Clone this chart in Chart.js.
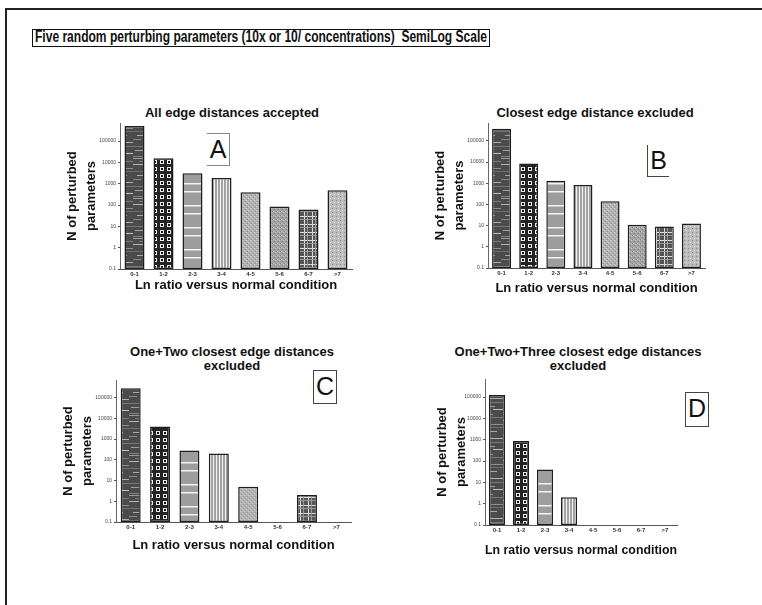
<!DOCTYPE html>
<html>
<head>
<meta charset="utf-8">
<title>Five random perturbing parameters</title>
<script src="https://cdn.jsdelivr.net/npm/chart.js"></script>
<style>
  body, html {
    margin: 0;
    padding: 0;
    background: #fff;
    font-family: 'Liberation Sans', Arial, sans-serif;
  }
  #page {
    position: relative;
    width: 762px;
    height: 605px;
    overflow: hidden;
  }
  /* outer frame of the figure (left and top edges only are in view) */
  #frame {
    position: absolute;
    left: 5px;
    top: 8px;
    width: 800px;
    height: 620px;
    border-left: 2px solid #222;
    border-top: 2px solid #222;
  }
  #mainTitle {
    position: absolute;
    left: 32px;
    top: 29px;
    width: 456px;
    height: 16px;
    border: 1.5px solid #111;
    overflow: hidden;
  }
  #mainTitle span {
    position: absolute;
    left: 2px;
    top: -2px;
    font-size: 16px;
    font-weight: bold;
    color: #111;
    white-space: pre;
    transform-origin: 0 50%;
  }
  .ptitle {
    position: absolute;
    width: 320px;
    text-align: center;
    font-size: 13px;
    font-weight: bold;
    line-height: 14px;
    color: #111;
  }
  .letter {
    position: absolute;
    box-sizing: border-box;
    font-size: 25px;
    line-height: 30px;
    text-align: center;
    color: #111;
  }
  canvas { position: absolute; }
</style>
</head>
<body>
<div id="page">
  <div id="frame"></div>
  <div id="mainTitle"><span>Five random perturbing parameters (10x or 10/ concentrations)  SemiLog Scale</span></div>

  <div class="ptitle" style="left:72px; top:106px;">All edge distances accepted</div>
  <div class="ptitle" style="left:435px; top:106px;">Closest edge distance excluded</div>
  <div class="ptitle" style="left:72px; top:345px;">One+Two closest edge distances<br>excluded</div>
  <div class="ptitle" style="left:418px; top:345px;">One+Two+Three closest edge distances<br>excluded</div>

  <div class="letter" style="left:207px; top:133px; width:23px; height:33px; border-top:1px solid #888; border-right:1px solid #888; border-bottom:1px solid #888;">A</div>
  <div class="letter" style="left:647px; top:145px; width:22px; height:32px; border-left:1px solid #444; border-bottom:1px solid #444;">B</div>
  <div class="letter" style="left:313px; top:370px; width:24px; height:34px; border:1px solid #444;">C</div>
  <div class="letter" style="left:685px; top:392px; width:24px; height:35px; border:1px solid #444;">D</div>
</div>

<script>
// ---- data ----
const categories = ['0-1', '1-2', '2-3', '3-4', '4-5', '5-6', '6-7', '>7'];
const yTickValues = [0.1, 1, 10, 100, 1000, 10000, 100000];
const yTickLabels = ['0.1', '1', '10', '100', '1000', '10000', '100000'];

const allAccepted = [500000, 15500, 3100, 1850, 400, 85, 62, 490];
const closestExcluded = [372000, 8500, 1300, 835, 140, 11, 9, 12.5];
const oneTwoExcluded = [277000, 4000, 277, 200, 5, null, 2, null];
const oneTwoThreeExcluded = [123000, 875, 40, 2, null, null, null, null];

const yMin = 0.1;
const yMax = 700000;

// squeeze the main title to the width of its box
const mt = document.querySelector('#mainTitle span');
mt.style.transform = 'scaleX(' + (452 / mt.getBoundingClientRect().width) + ')';

// ---- fill patterns, one per bin ----
function makePattern(w, h, draw) {
    const c = document.createElement('canvas');
    c.width = w;
    c.height = h;
    const g = c.getContext('2d');
    draw(g);
    return g.createPattern(c, 'repeat');
}

const patterns = [
    // dark with light streaks
    makePattern(24, 40, g => {
        g.fillStyle = '#4b4b4b'; g.fillRect(0, 0, 24, 40);
        const streaks = [[1, 0, 14, '#9a9a9a'], [4, 6, 24, '#7a7a7a'], [7, 0, 10, '#b5b5b5'],
            [11, 12, 24, '#8c8c8c'], [14, 0, 24, '#6e6e6e'], [18, 4, 18, '#a8a8a8'],
            [22, 0, 8, '#8a8a8a'], [25, 10, 24, '#b0b0b0'], [29, 0, 24, '#777'],
            [33, 2, 16, '#9d9d9d'], [36, 14, 24, '#c0c0c0'], [39, 0, 12, '#808080']];
        streaks.forEach(([y, x0, x1, col]) => { g.fillStyle = col; g.fillRect(x0, y, x1 - x0, 1); });
    }),
    // dark checker: white rings with black centres
    makePattern(7, 7, g => {
        g.fillStyle = '#232323'; g.fillRect(0, 0, 7, 7);
        g.fillStyle = '#ececec'; g.fillRect(1, 1, 4, 4);
        g.fillStyle = '#111'; g.fillRect(2, 2, 2, 2);
    }),
    // grey with white horizontal lines
    makePattern(4, 22, g => {
        g.fillStyle = '#9d9d9d'; g.fillRect(0, 0, 4, 22);
        g.fillStyle = '#f4f4f4'; g.fillRect(0, 0, 4, 1.5); g.fillRect(0, 8, 4, 1.5);
    }),
    // vertical white stripes
    makePattern(3, 4, g => {
        g.fillStyle = '#a2a2a2'; g.fillRect(0, 0, 3, 4);
        g.fillStyle = '#f4f4f4'; g.fillRect(0, 0, 1, 4);
    }),
    // light stipple
    makePattern(4, 4, g => {
        g.fillStyle = '#b3b3b3'; g.fillRect(0, 0, 4, 4);
        g.fillStyle = '#8e8e8e'; g.fillRect(0, 0, 1, 1); g.fillRect(2, 2, 1, 1);
        g.fillStyle = '#d4d4d4'; g.fillRect(1, 3, 1, 1); g.fillRect(3, 1, 1, 1);
    }),
    // mid stipple
    makePattern(4, 4, g => {
        g.fillStyle = '#a4a4a4'; g.fillRect(0, 0, 4, 4);
        g.fillStyle = '#7e7e7e'; g.fillRect(1, 0, 1, 1); g.fillRect(3, 2, 1, 1);
        g.fillStyle = '#c8c8c8'; g.fillRect(0, 2, 1, 1); g.fillRect(2, 3, 1, 1);
    }),
    // plaid
    makePattern(8, 8, g => {
        g.fillStyle = '#555'; g.fillRect(0, 0, 8, 8);
        g.fillStyle = '#dcdcdc'; g.fillRect(0, 3, 8, 1); g.fillRect(3, 0, 1, 8);
        g.fillStyle = '#999'; g.fillRect(6, 0, 1, 8); g.fillRect(0, 6, 8, 1);
    }),
    // light dots
    makePattern(4, 4, g => {
        g.fillStyle = '#bcbcbc'; g.fillRect(0, 0, 4, 4);
        g.fillStyle = '#efefef'; g.fillRect(1, 1, 1, 1);
        g.fillStyle = '#8a8a8a'; g.fillRect(3, 3, 1, 1);
    })
];

// ---- panels: where each plot area sits on the page ----
const panels = [
    { data: allAccepted, area: { l: 120, r: 352, t: 123, b: 269 }, yTitleX: 72, xTitleY: 285, bar: 0.69 },
    { data: closestExcluded, area: { l: 488, r: 705, t: 123, b: 268 }, yTitleX: 440, xTitleY: 288, bar: 0.70 },
    { data: oneTwoExcluded, area: { l: 116, r: 351, t: 380, b: 522 }, yTitleX: 68, xTitleY: 545, bar: 0.68 },
    { data: oneTwoThreeExcluded, area: { l: 485, r: 677, t: 379, b: 525 }, yTitleX: 442, xTitleY: 550, bar: 0.67 }
];

const Y_LH = 19;          // y title line height
const X_LH = 15.6;        // x title line height

function drawPanel(p) {
    const left = Math.floor(p.yTitleX - Y_LH / 2 - 1);
    const top = Math.floor(p.area.t - 6);
    const yW = p.area.l - left;
    const yPad = p.yTitleX - Y_LH / 2 - left;
    const xH = p.xTitleY - p.area.b + X_LH / 2 + 2;
    const width = Math.ceil(p.area.r - left + 6);
    const height = Math.ceil(p.area.b - top + xH);

    const canvas = document.createElement('canvas');
    canvas.width = width;
    canvas.height = height;
    canvas.style.left = left + 'px';
    canvas.style.top = top + 'px';
    document.getElementById('page').appendChild(canvas);

    new Chart(canvas.getContext('2d'), {
        type: 'bar',
        data: {
            labels: categories,
            datasets: [{
                data: p.data,
                backgroundColor: patterns,
                borderColor: '#1e1e1e',
                borderWidth: 1.5,
                borderSkipped: false,
                barPercentage: p.bar,
                categoryPercentage: 1
            }]
        },
        options: {
            responsive: false,
            animation: false,
            devicePixelRatio: 1,
            layout: {
                padding: {
                    left: 0,
                    top: p.area.t - top,
                    right: width - (p.area.r - left),
                    bottom: height - (p.area.b - top) - xH
                }
            },
            plugins: {
                legend: { display: false },
                tooltip: { enabled: false }
            },
            scales: {
                x: {
                    type: 'category',
                    grid: { display: false, drawTicks: false, tickLength: 0 },
                    border: { display: true, color: '#555', width: 1 },
                    ticks: {
                        color: '#333',
                        font: { size: 6, weight: 'bold' },
                        padding: 2,
                        maxRotation: 0,
                        autoSkip: false
                    },
                    title: {
                        display: true,
                        text: 'Ln ratio versus normal condition',
                        color: '#111',
                        font: { size: 13, weight: 'bold', lineHeight: 1.2 },
                        padding: { top: 0, bottom: 2 }
                    },
                    afterFit: s => { s.height = xH; }
                },
                y: {
                    type: 'logarithmic',
                    min: yMin,
                    max: yMax,
                    afterBuildTicks: s => { s.ticks = yTickValues.map(v => ({ value: v })); },
                    grid: {
                        display: true,
                        drawOnChartArea: false,
                        drawTicks: true,
                        tickLength: 2,
                        color: '#555'
                    },
                    border: { display: true, color: '#666', width: 1 },
                    ticks: {
                        color: '#444',
                        font: { size: 5 },
                        padding: 2,
                        autoSkip: false,
                        callback: v => yTickLabels[yTickValues.indexOf(v)]
                    },
                    title: {
                        display: true,
                        text: ['N of perturbed', 'parameters'],
                        color: '#111',
                        font: { size: 13, weight: 'bold', lineHeight: Y_LH / 13 },
                        padding: { top: yPad, bottom: 0 }
                    },
                    afterFit: s => { s.width = yW; }
                }
            }
        }
    });
}

panels.forEach(drawPanel);
</script>
</body>
</html>
